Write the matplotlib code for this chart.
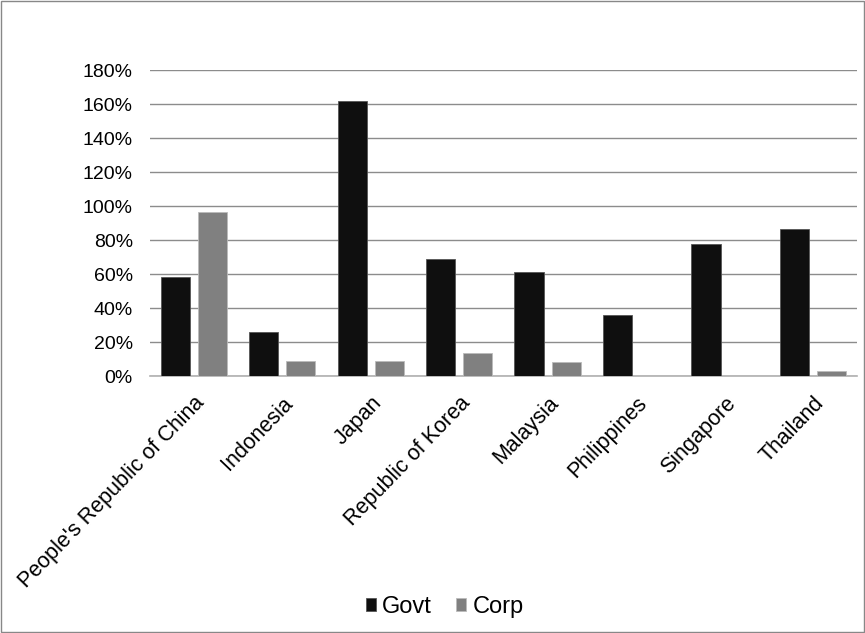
import numpy as np
import matplotlib.pyplot as plt
from matplotlib.ticker import PercentFormatter

countries = ["People's Republic of China", "Indonesia", "Japan", "Republic of Korea",
             "Malaysia", "Philippines", "Singapore", "Thailand"]
govt = [0.58, 0.26, 1.62, 0.69, 0.61, 0.36, 0.78, 0.865]
corp = [0.965, 0.09, 0.09, 0.135, 0.08, 0.0, 0.0, 0.03]

plt.rcParams['font.family'] = ['Liberation Sans', 'DejaVu Sans']

fig = plt.figure(figsize=(8.65, 6.33), dpi=100)
ax = fig.add_axes([0.173, 0.406, 0.818, 0.483])

x = np.arange(len(countries))
w = 0.33
off = 0.21
ax.bar(x - off, govt, w, color='#0f0f0f', edgecolor='#555555', linewidth=0.6, label='Govt', zorder=3)
ax.bar(x + off, corp, w, color='#808080', edgecolor='#bbbbbb', linewidth=0.6, label='Corp', zorder=3)

ax.set_xlim(-0.5, len(countries) - 0.5)
ax.set_ylim(0, 1.8)
ax.set_yticks(np.arange(0, 1.81, 0.2))
ax.yaxis.set_major_formatter(PercentFormatter(1.0, decimals=0))
ax.grid(axis='y', color='#8c8c8c', linewidth=1, zorder=0)
for s in ['top', 'right', 'left']:
    ax.spines[s].set_visible(False)
ax.spines['bottom'].set_color('#b0b0b0')
ax.spines['bottom'].set_linewidth(1.2)
ax.tick_params(axis='y', length=0, labelsize=14, pad=12)
ax.tick_params(axis='x', length=0, labelsize=15.5, pad=12)
ax.set_xticks(x)
ax.set_xticklabels(countries, rotation=46, ha='right', rotation_mode='anchor')

fig.legend(loc='center', bbox_to_anchor=(0.514, 0.041), ncol=2, frameon=False,
           fontsize=17, handlelength=0.45, handleheight=0.45, handletextpad=0.25,
           columnspacing=1.0)

fig.patches.append(plt.Rectangle((0.001, 0.001), 0.998, 0.998, transform=fig.transFigure,
                                 fill=False, edgecolor='#888888', linewidth=1))

fig.savefig('out.png', dpi=100)
